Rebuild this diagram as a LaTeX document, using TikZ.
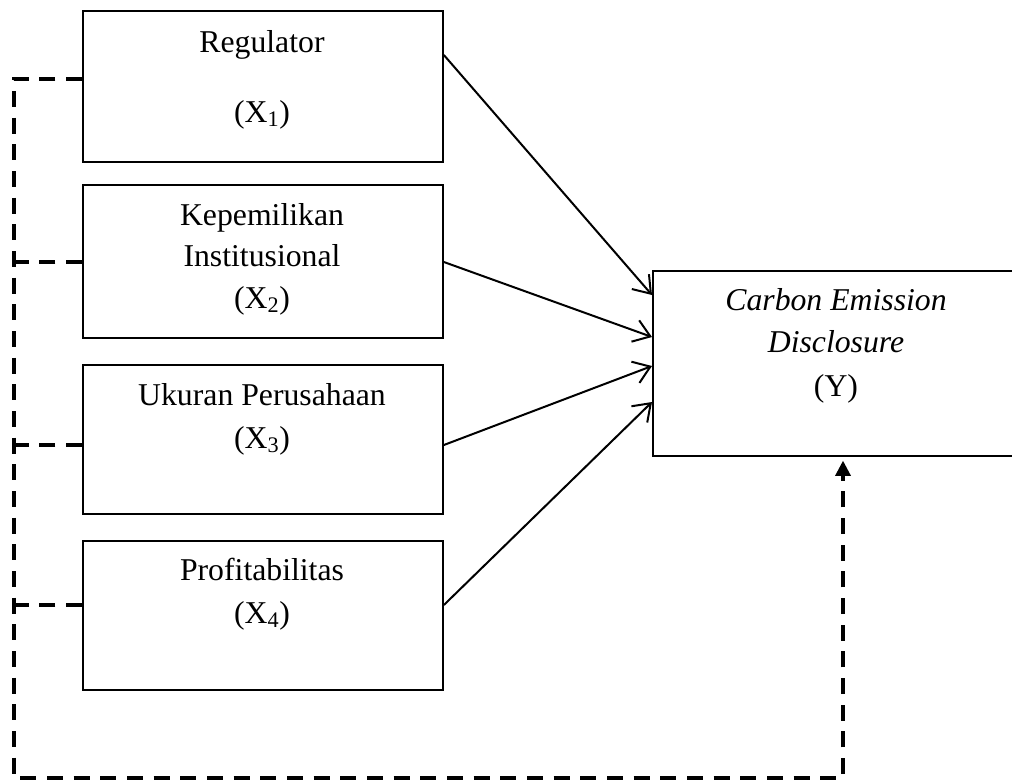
\documentclass[tikz,border=0pt]{standalone}
\usepackage{fontspec}
\setmainfont{Liberation Serif}
\usetikzlibrary{arrows.meta,calc}
\begin{document}
\begin{tikzpicture}[x=0.75pt,y=-0.75pt,
  box/.style={draw,line width=1.4pt,anchor=north west,inner sep=0pt},
  lbl/.style={anchor=base,inner sep=0pt,font=\fontsize{23.8}{30}\selectfont},
  arr/.style={line width=1.5pt,-{Straight Barb[length=12pt,width=17pt,line width=1.5pt]}},
  dsh/.style={line width=3pt,dash pattern=on 12pt off 8pt}]
\useasboundingbox (0,0) rectangle (1012,783);
% boxes
\node[box,minimum width=270pt,minimum height=113.25pt] (b1) at (82,10) {};
\node[box,minimum width=270pt,minimum height=114.75pt] (b2) at (82,184) {};
\node[box,minimum width=270pt,minimum height=111.75pt] (b3) at (82,364) {};
\node[box,minimum width=270pt,minimum height=111.75pt] (b4) at (82,540) {};
\node[box,minimum width=272.25pt,minimum height=138.75pt] (y) at (652,270) {};
% labels
\node[lbl] (t1a) at (262,52) {Regulator};
\node[lbl] (t1b) at (262,122) {(X\textsubscript{1})};
\node[lbl] (t2a) at (262,225) {Kepemilikan};
\node[lbl] (t2b) at (262,266) {Institusional};
\node[lbl] (t2c) at (262,308) {(X\textsubscript{2})};
\node[lbl] (t3a) at (262,405) {Ukuran Perusahaan};
\node[lbl] (t3b) at (262,448) {(X\textsubscript{3})};
\node[lbl] (t4a) at (262,580) {Profitabilitas};
\node[lbl] (t4b) at (262,623) {(X\textsubscript{4})};
\node[lbl] (tya) at (836,310) {\itshape Carbon Emission};
\node[lbl] (tyb) at (836,352) {\itshape Disclosure};
\node[lbl] (tyc) at (836,396) {(Y)};
% arrows
\draw[arr] ($(b1.north east)+(0,45)$) -- ($(y.north west)+(0,25)$);
\draw[arr] ($(b2.north east)+(0,78)$) -- ($(y.north west)+(0,67)$);
\draw[arr] ($(b3.north east)+(0,81)$) -- ($(y.north west)+(0,96)$);
\draw[arr] ($(b4.north east)+(0,65)$) -- ($(y.north west)+(0,132)$);
% dashed feedback
\coordinate (c1) at (14,79);
\coordinate (c2) at (14,262);
\coordinate (c3) at (14,445);
\coordinate (c4) at (14,605);
\coordinate (bl) at (14,778);
\coordinate (br) at (843,778);
\coordinate (ytip) at ($(y.south west)+(191,4)$);
\draw[dsh] ($(b1.north west)+(0,69)$) -- (c1) -- (bl) -- (br)
  -- ($(ytip)+(0,14)$);
\fill (ytip) -- ++(-8,15) -- ++(16,0) -- cycle;
\draw[dsh] ($(b2.north west)+(0,78)$) -- (c2);
\draw[dsh] ($(b3.north west)+(0,81)$) -- (c3);
\draw[dsh] ($(b4.north west)+(0,65)$) -- (c4);
\end{tikzpicture}
\end{document}
